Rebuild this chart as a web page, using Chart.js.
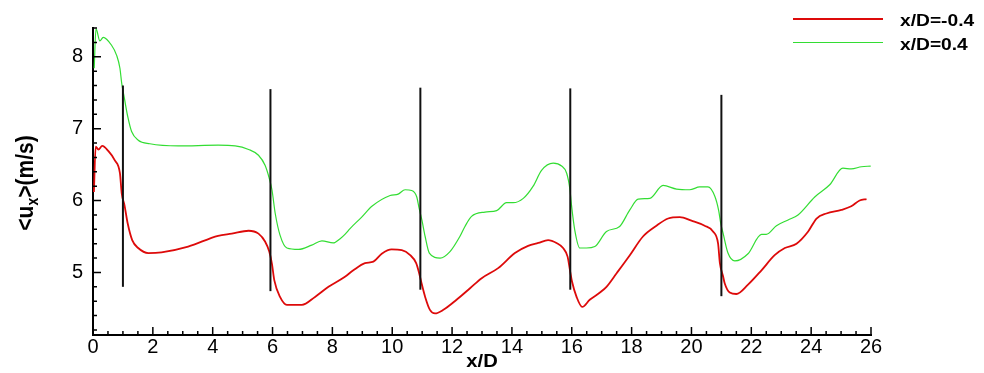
<!DOCTYPE html>
<html>
<head>
<meta charset="utf-8">
<script src="https://cdn.jsdelivr.net/npm/chart.js@4.4.0/dist/chart.umd.min.js"></script>
<style>
html,body{margin:0;padding:0;background:#fff;}
#wrap{width:984px;height:373px;position:relative;}
</style>
</head>
<body>
<div id="wrap"><canvas id="c" width="984" height="373"></canvas></div>
<script>
// ---- data ----
const seriesLabels = ['x/D=-0.4', 'x/D=0.4'];
const seriesColors = ['#dd0a0a', '#33dd33'];

const redX = [0.03,0.09,0.18,0.31,0.51,0.73,0.90,0.96,1.05,1.16,1.31,1.51,1.85,2.29,3.18,4.18,4.64,5.20,5.53,5.75,5.89,5.98,6.06,6.25,6.48,6.98,7.42,7.87,8.42,8.70,9.09,9.37,9.65,9.98,10.32,10.60,10.80,10.90,10.98,11.10,11.26,11.43,11.71,12.15,12.60,12.99,13.54,14.10,14.54,14.88,15.21,15.49,15.71,15.86,15.94,16.01,16.16,16.35,16.60,16.94,17.16,17.50,17.94,18.38,18.83,19.22,19.61,20.00,20.44,20.72,20.89,20.95,21.06,21.11,21.28,21.50,21.89,22.34,22.78,23.12,23.51,23.90,24.18,24.51,25.01,25.34,25.62,25.85];
const redY = [6.12,6.75,6.71,6.76,6.69,6.56,6.38,6.10,5.94,5.68,5.45,5.34,5.27,5.28,5.36,5.51,5.54,5.58,5.54,5.43,5.29,5.12,4.89,4.66,4.55,4.55,4.66,4.80,4.94,5.03,5.13,5.15,5.26,5.32,5.31,5.24,5.13,4.99,4.85,4.66,4.48,4.43,4.48,4.62,4.78,4.92,5.06,5.27,5.37,5.41,5.45,5.41,5.34,5.22,5.03,4.87,4.66,4.52,4.62,4.72,4.80,4.99,5.24,5.50,5.65,5.75,5.77,5.72,5.65,5.57,5.40,5.13,4.94,4.85,4.72,4.70,4.83,5.03,5.24,5.34,5.40,5.57,5.75,5.82,5.87,5.92,6.00,6.02];

const greenX = [0.04,0.10,0.23,0.34,0.62,0.79,0.90,0.96,1.05,1.16,1.29,1.51,1.90,2.85,4.18,4.75,5.20,5.53,5.75,5.89,5.98,6.09,6.25,6.48,6.87,7.31,7.65,8.03,8.26,8.42,8.59,8.98,9.32,9.93,10.20,10.43,10.65,10.82,10.90,10.99,11.10,11.24,11.60,11.93,12.26,12.43,12.65,13.10,13.49,13.82,14.04,14.38,14.71,14.99,15.38,15.66,15.83,15.94,15.99,16.10,16.27,16.49,16.77,17.16,17.60,17.94,18.22,18.61,19.05,19.50,19.94,20.28,20.55,20.78,20.91,20.98,21.06,21.22,21.45,21.89,22.34,22.50,22.84,23.23,23.56,24.12,24.62,25.06,25.34,25.68,25.99];
const greenY = [7.84,8.39,8.22,8.27,8.16,8.02,7.84,7.63,7.42,7.17,6.96,6.84,6.79,6.76,6.77,6.76,6.71,6.63,6.49,6.31,6.15,5.82,5.52,5.34,5.32,5.38,5.44,5.41,5.47,5.53,5.61,5.77,5.92,6.07,6.09,6.15,6.14,6.05,5.89,5.73,5.50,5.27,5.20,5.29,5.50,5.64,5.78,5.84,5.86,5.97,5.97,6.03,6.20,6.42,6.52,6.48,6.38,6.15,5.94,5.59,5.34,5.34,5.36,5.57,5.64,5.87,6.02,6.03,6.21,6.16,6.15,6.19,6.19,6.06,5.86,5.68,5.54,5.27,5.16,5.26,5.53,5.53,5.65,5.73,5.80,6.05,6.22,6.45,6.44,6.47,6.48];

// vertical black marker lines
const markerX = [1.00, 5.93, 10.94, 15.95, 21.00];
const markerTop = [7.60, 7.55, 7.57, 7.56, 7.47];
const markerBottom = [4.80, 4.74, 4.76, 4.76, 4.67];

// axes
const xTickValues = [0,2,4,6,8,10,12,14,16,18,20,22,24,26];
const yTickValues = [5,6,7,8];
const xRange = [0, 26];
const yRange = [4.13, 8.4];
const xMinorStep = 0.5;
const yMinorStep = 0.2;
const xTitle = 'x/D';
const yTitleParts = ['<u', 'x', '>(m/s)'];

// ---- build datasets ----
function pts(xs, ys) { return xs.map((v, i) => ({x: v, y: ys[i]})); }
const datasets = [];
markerX.forEach((mx, i) => {
  datasets.push({
    label: 'marker' + i,
    data: [{x: mx, y: markerBottom[i]}, {x: mx, y: markerTop[i]}],
    borderColor: '#111', borderWidth: 2, pointRadius: 0, order: 0, isMarker: true
  });
});
datasets.push({label: seriesLabels[0], data: pts(redX, redY), borderColor: seriesColors[0], borderWidth: 1.8, pointRadius: 0, cubicInterpolationMode: 'monotone', order: 1});
datasets.push({label: seriesLabels[1], data: pts(greenX, greenY), borderColor: seriesColors[1], borderWidth: 1.2, pointRadius: 0, cubicInterpolationMode: 'monotone', order: 2});

// ---- plugin: inward ticks, axis titles, legend ----
const decor = {
  id: 'decor',
  afterDraw(chart) {
    const {ctx, chartArea: a, scales: {x, y}} = chart;
    ctx.save();
    ctx.strokeStyle = '#000';
    ctx.lineWidth = 1.5;
    ctx.beginPath();
    const nx = Math.round((xRange[1] - xRange[0]) / xMinorStep);
    for (let i = 0; i <= nx; i++) {
      const v = xRange[0] + i * xMinorStep;
      const major = xTickValues.some(t => Math.abs(t - v) < 1e-6);
      const px = x.getPixelForValue(v);
      ctx.moveTo(px, a.bottom);
      ctx.lineTo(px, a.bottom - (major ? 8 : 4));
    }
    const y0 = Math.ceil(yRange[0] / yMinorStep - 1e-6);
    const y1 = Math.floor(yRange[1] / yMinorStep + 1e-6);
    for (let k = y0; k <= y1; k++) {
      const v = k * yMinorStep;
      const major = yTickValues.some(t => Math.abs(t - v) < 1e-6);
      const py = y.getPixelForValue(v);
      ctx.moveTo(a.left, py);
      ctx.lineTo(a.left + (major ? 8 : 4), py);
    }
    ctx.stroke();

    ctx.fillStyle = '#000';
    // x title
    ctx.save();
    ctx.font = 'bold 18px "Liberation Sans"';
    ctx.textBaseline = 'alphabetic';
    ctx.textAlign = 'center';
    ctx.translate((a.left + a.right) / 2, 367);
    ctx.scale(1.12, 1);
    ctx.fillText(xTitle, 0, 0);
    ctx.restore();

    // y title with subscript
    ctx.save();
    ctx.translate(33, 183);
    ctx.rotate(-Math.PI / 2);
    ctx.scale(1, 1.15);
    const mainFont = 'bold 21px "Liberation Sans"';
    const subFont = 'bold 14px "Liberation Sans"';
    ctx.textAlign = 'left';
    ctx.textBaseline = 'alphabetic';
    ctx.font = mainFont; const w0 = ctx.measureText(yTitleParts[0]).width;
    ctx.font = subFont; const w1 = ctx.measureText(yTitleParts[1]).width;
    ctx.font = mainFont; const w2 = ctx.measureText(yTitleParts[2]).width;
    let cx = -(w0 + w1 + w2) / 2;
    ctx.font = mainFont; ctx.fillText(yTitleParts[0], cx, 0); cx += w0;
    ctx.font = subFont; ctx.fillText(yTitleParts[1], cx, 4); cx += w1;
    ctx.font = mainFont; ctx.fillText(yTitleParts[2], cx, 0);
    ctx.restore();

    // legend
    const legendRows = [19, 42.5];
    const series = chart.data.datasets.filter(d => !d.isMarker);
    series.forEach((d, i) => {
      const ly = legendRows[i];
      ctx.strokeStyle = d.borderColor;
      ctx.lineWidth = d.borderWidth;
      ctx.beginPath();
      ctx.moveTo(793, ly);
      ctx.lineTo(883, ly);
      ctx.stroke();
      ctx.save();
      ctx.font = 'bold 16px "Liberation Sans"';
      ctx.textAlign = 'left';
      ctx.textBaseline = 'alphabetic';
      ctx.translate(900, ly + 7);
      ctx.scale(1.2, 1);
      ctx.fillStyle = '#000';
      ctx.fillText(d.label, 0, 0);
      ctx.restore();
    });
    ctx.restore();
  }
};

new Chart(document.getElementById('c'), {
  type: 'line',
  data: {datasets},
  options: {
    responsive: false,
    devicePixelRatio: 1,
    animation: false,
    events: [],
    layout: {padding: {top: 28, right: 113, left: 0, bottom: 0}},
    plugins: {legend: {display: false}, tooltip: {enabled: false}, title: {display: false}},
    scales: {
      x: {
        type: 'linear', min: xRange[0], max: xRange[1],
        grid: {display: false, drawTicks: false},
        border: {display: true, color: '#000', width: 2},
        afterBuildTicks: s => { s.ticks = xTickValues.map(v => ({value: v})); },
        afterFit: s => { s.height = 38; },
        ticks: {color: '#000', font: {family: '"Liberation Sans"', size: 20}, padding: 0, maxRotation: 0, autoSkip: false}
      },
      y: {
        type: 'linear', min: yRange[0], max: yRange[1],
        grid: {display: false, drawTicks: false},
        border: {display: true, color: '#000', width: 2},
        afterBuildTicks: s => { s.ticks = yTickValues.map(v => ({value: v})); },
        afterFit: s => { s.width = 93; },
        ticks: {color: '#000', font: {family: '"Liberation Sans"', size: 20}, padding: 10}
      }
    }
  },
  plugins: [decor]
});
</script>
</body>
</html>
